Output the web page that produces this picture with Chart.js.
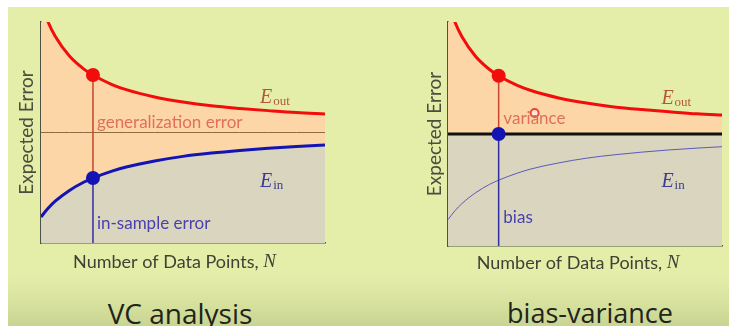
<!DOCTYPE html>
<html>
<head>
<meta charset="utf-8">
<script src="https://cdn.jsdelivr.net/npm/chart.js@4.4.0/dist/chart.umd.min.js"></script>
<style>
  body { margin: 0; width: 729px; height: 326px; background: #ffffff; overflow: hidden; position: relative; }
  #slide {
    position: absolute; left: 8px; top: 7px; right: 0; bottom: 0;
    background: linear-gradient(to bottom, #e5eea9 0%, #e5eea9 84%, #d9e3a0 92%, #c9d492 100%);
  }
  canvas { position: absolute; top: 0; }
  #left { left: 0; }
  #right { left: 365px; }
  .caption {
    position: absolute; top: 294px; font-family: "Open Sans", sans-serif; font-size: 27px;
    color: #20241a; transform: translateX(-50%); white-space: nowrap;
  }
</style>
</head>
<body>
<div id="slide"></div>
<canvas id="left" width="365" height="290"></canvas>
<canvas id="right" width="364" height="290"></canvas>
<div class="caption" style="left:180px; font-size:28px">VC analysis</div>
<div class="caption" style="left:590px">bias-variance</div>

<script>
// sample sizes along the x axis
const nValues = [0, 0.25, 0.5, 1, 1.5, 1.83, 2.5, 3, 4, 5, 6, 7, 8, 9, 10];
// out-of-sample and in-sample error curves
const eOut = [10.89, 10.0, 9.35, 8.46, 7.88, 7.6, 7.17, 6.94, 6.61, 6.38, 6.21, 6.09, 5.99, 5.9, 5.84];
const eIn = [1.18, 1.57, 1.89, 2.38, 2.75, 2.94, 3.25, 3.44, 3.71, 3.92, 4.07, 4.19, 4.29, 4.37, 4.44];
// level of the asymptote / bias line
const levelValue = 5.0;
// marked sample size and the values there
const markN = 1.83;
const markOut = 7.6;
const markIn = 2.94;
// pointer circle on the right panel
const pointerAt = { x: 3.13, y: 5.94 };

const RED = "#f20d0d";
const BLUE = "#1414b4";
const ORANGE = "#fcd6a6";
const GRAY = "#d9d5be";
const AXIS = "#4b5442";

function pts(ys) {
  return nValues.map((n, i) => ({ x: n, y: ys[i] }));
}
function flat(v) {
  return nValues.map((n) => ({ x: n, y: v }));
}

// draws the texts that sit inside each panel
const panelText = {
  id: "panelText",
  afterDatasetsDraw(chart, args, opts) {
    const ctx = chart.ctx;
    const xs = chart.scales.x, ys = chart.scales.y;
    ctx.save();
    ctx.textBaseline = "middle";
    opts.labels.forEach((l) => {
      ctx.fillStyle = l.color;
      ctx.font = "17px Lato, sans-serif";
      ctx.textAlign = "left";
      ctx.fillText(l.text, xs.getPixelForValue(l.x), ys.getPixelForValue(l.y));
    });
    opts.symbols.forEach((s) => {
      let px = xs.getPixelForValue(s.x), py = ys.getPixelForValue(s.y);
      ctx.fillStyle = s.color;
      ctx.textAlign = "left";
      ctx.font = "italic 20px 'Liberation Serif', serif";
      ctx.fillText("E", px, py);
      px += ctx.measureText("E").width + 1;
      ctx.font = "13px 'Liberation Serif', serif";
      ctx.fillText(s.sub, px, py + 4);
    });
    // x axis title with an italic N
    const a = chart.chartArea;
    const t1 = "Number of Data Points, ";
    ctx.fillStyle = "#3e4236";
    ctx.font = "18px Lato, sans-serif";
    const w1 = ctx.measureText(t1).width;
    ctx.font = "italic 19px 'Liberation Serif', serif";
    const w2 = ctx.measureText("N").width;
    let x0 = xs.getPixelForValue(4.7) - (w1 + w2) / 2;
    const y0 = a.bottom + opts.titleGap;
    ctx.font = "18px Lato, sans-serif";
    ctx.fillText(t1, x0, y0);
    ctx.font = "italic 19px 'Liberation Serif', serif";
    ctx.fillText("N", x0 + w1, y0);
    ctx.restore();
  }
};

function baseOptions(pad, yTitlePad, xMax, textOpts) {
  return {
    responsive: false,
    animation: false,
    devicePixelRatio: 1,
    layout: { padding: pad },
    plugins: {
      legend: { display: false },
      tooltip: { enabled: false },
      filler: { drawTime: "beforeDatasetsDraw" },
      panelText: textOpts
    },
    scales: {
      x: {
        type: "linear", min: 0, max: xMax,
        grid: { display: false, drawTicks: false },
        ticks: { display: false },
        border: { display: true, color: AXIS, width: 1.5 }
      },
      y: {
        type: "linear", min: 0, max: 10,
        grid: { display: false, drawTicks: false },
        ticks: { display: false },
        border: { display: true, color: AXIS, width: 1.5 },
        title: {
          display: true, text: "Expected Error", color: "#4a4e40",
          font: { family: "Lato, sans-serif", size: 19, lineHeight: 1.2 },
          padding: { top: 0, bottom: yTitlePad }
        }
      }
    }
  };
}

const lineStyle = { pointRadius: 0, cubicInterpolationMode: "monotone" };

// VC analysis panel
new Chart(document.getElementById("left"), {
  type: "line",
  data: {
    datasets: [
      { data: [{ x: markN, y: markOut }], showLine: false, pointRadius: 7, pointBackgroundColor: RED, pointBorderWidth: 0 },
      { data: [{ x: markN, y: markIn }], showLine: false, pointRadius: 7, pointBackgroundColor: BLUE, pointBorderWidth: 0 },
      { data: [{ x: markN, y: markOut }, { x: markN, y: markIn }], borderColor: "#c8452f", borderWidth: 1.5, pointRadius: 0 },
      { data: [{ x: markN, y: markIn }, { x: markN, y: 0 }], borderColor: "#2e2e9e", borderWidth: 1.5, pointRadius: 0 },
      { data: flat(levelValue), borderColor: "#8a6d45", borderWidth: 1, pointRadius: 0 },
      { data: pts(eOut), borderColor: RED, borderWidth: 3, fill: { target: 6 }, backgroundColor: ORANGE, ...lineStyle },
      { data: pts(eIn), borderColor: BLUE, borderWidth: 3, fill: "origin", backgroundColor: GRAY, ...lineStyle }
    ]
  },
  options: baseOptions({ left: 15.6, top: 22, right: 40, bottom: 47 }, 2.6, 10, {
    titleGap: 19,
    labels: [
      { text: "generalization error", x: 1.97, y: 5.47, color: "#e0705a" },
      { text: "in-sample error", x: 1.97, y: 0.9, color: "#4a3fae" }
    ],
    symbols: [
      { sub: "out", x: 7.71, y: 6.56, color: "#b2583a" },
      { sub: "in", x: 7.71, y: 2.76, color: "#3b3b92" }
    ]
  }),
  plugins: [panelText]
});

// bias-variance panel
new Chart(document.getElementById("right"), {
  type: "line",
  data: {
    datasets: [
      { data: [{ x: markN, y: markOut }], showLine: false, pointRadius: 7, pointBackgroundColor: RED, pointBorderWidth: 0 },
      { data: [{ x: markN, y: levelValue }], showLine: false, pointRadius: 7, pointBackgroundColor: BLUE, pointBorderWidth: 0 },
      { data: [pointerAt], showLine: false, pointRadius: 4, pointBackgroundColor: "rgba(255,235,225,0.9)", pointBorderColor: "#e8473a", pointBorderWidth: 2 },
      { data: [{ x: markN, y: markOut }, { x: markN, y: levelValue }], borderColor: "#c8452f", borderWidth: 1.5, pointRadius: 0 },
      { data: [{ x: markN, y: levelValue }, { x: markN, y: 0 }], borderColor: "#2e2e9e", borderWidth: 1.5, pointRadius: 0 },
      { data: pts(eIn), borderColor: "#5a5ac0", borderWidth: 1, ...lineStyle },
      { data: flat(levelValue), borderColor: "#111111", borderWidth: 3, pointRadius: 0, fill: "origin", backgroundColor: GRAY },
      { data: pts(eOut), borderColor: RED, borderWidth: 3, fill: { target: 6 }, backgroundColor: ORANGE, ...lineStyle }
    ]
  },
  options: baseOptions({ left: 58.6, top: 22, right: 0, bottom: 44 }, 1.6, 9.9, {
    titleGap: 17,
    labels: [
      { text: "variance", x: 2.0, y: 5.71, color: "#e0705a" },
      { text: "bias", x: 2.0, y: 1.25, color: "#4a3fae" }
    ],
    symbols: [
      { sub: "out", x: 7.71, y: 6.56, color: "#b2583a" },
      { sub: "in", x: 7.71, y: 2.86, color: "#3b3b92" }
    ]
  }),
  plugins: [panelText]
});
</script>
</body>
</html>
